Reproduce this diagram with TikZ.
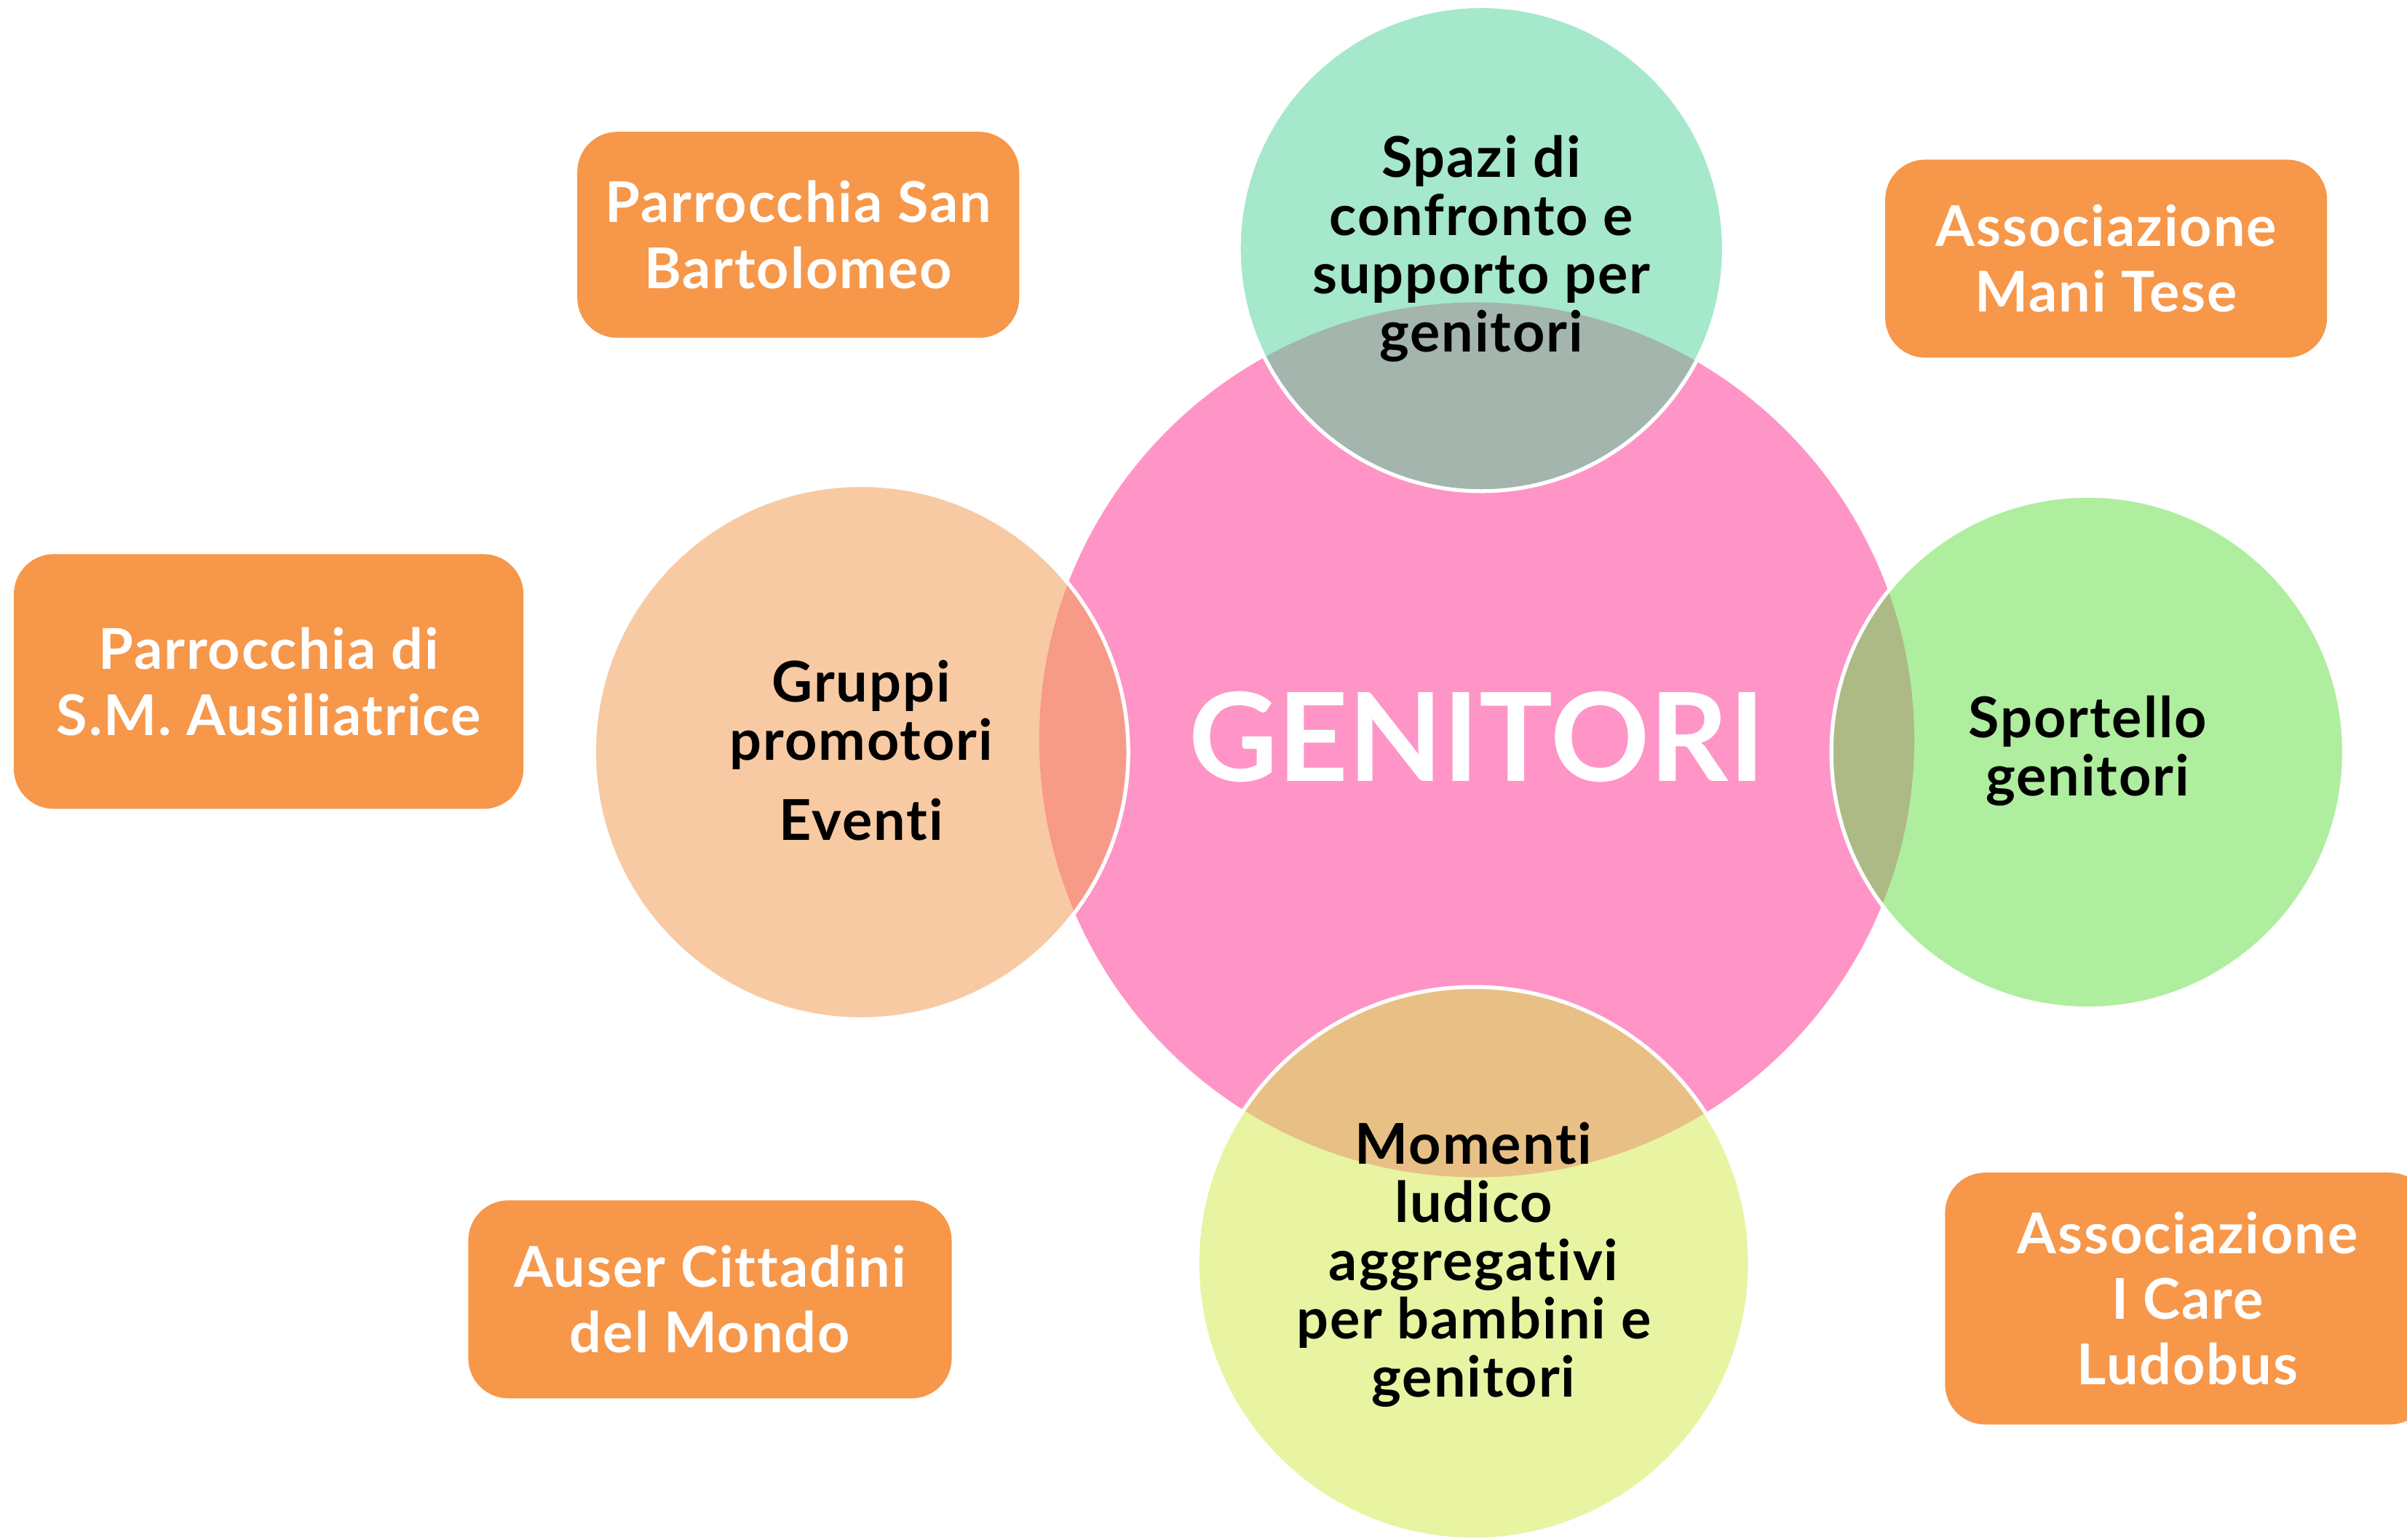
\documentclass[tikz,border=0pt]{standalone}
\usepackage{fontspec}
\setmainfont{Lato}[LetterSpace=2.5,Ligatures=NoCommon]
\definecolor{boxorange}{HTML}{F6974A}
\definecolor{genpink}{HTML}{FE95C6}
\definecolor{topgreen}{HTML}{A5E8CB}
\definecolor{topmix}{HTML}{A3B5AC}
\definecolor{rightgreen}{HTML}{AEEE9E}
\definecolor{rightmix}{HTML}{ADBA86}
\definecolor{leftpeach}{HTML}{F8CAA3}
\definecolor{leftmix}{HTML}{F79A88}
\definecolor{lowyellow}{HTML}{E8F4A2}
\definecolor{lowmix}{HTML}{E8C086}

\begin{document}
\begin{tikzpicture}[x=0.02109cm,y=-0.02109cm,
  org/.style={fill=boxorange,rounded corners=0.55cm,inner sep=0pt,text=white,align=center,
    font=\fontsize{22}{25.7}\selectfont\bfseries},
  area/.style={text=black,align=center,font=\fontsize{22}{22.8}\selectfont\bfseries},
  ring/.style={draw=white,line width=1.5pt}]
\useasboundingbox (0,0) rectangle (1568,1003);
\clip (0,0) rectangle (1568,1003);
%-------->big circle<--------------
\fill[genpink] (962,482) circle (285);
%-------->small circles<--------------
\fill[topgreen] (965,162) circle (158);
\fill[rightgreen] (1360,490) circle (167);
\fill[leftpeach] (561,490) circle (174);
\fill[lowyellow] (960,823) circle (180);
%-------->overlaps<--------------
\begin{scope}
\clip (962,482) circle (285);
\fill[topmix] (965,162) circle (158);
\fill[rightmix] (1360,490) circle (167);
\fill[leftmix] (561,490) circle (174);
\fill[lowmix] (960,823) circle (180);
\end{scope}
\draw[ring] (965,162) circle (158);
\draw[ring] (1360,490) circle (167);
\draw[ring] (561,490) circle (174);
\draw[ring] (960,823) circle (180);
%-------->circle texts<--------------
\node[text=white,font=\fontsize{48}{50}\selectfont\bfseries\addfontfeatures{LetterSpace=0}] (gen) at (962,480) {GENITORI};
\node[area] (spazi) at (965,162) {Spazi di\\confronto e\\supporto per\\genitori};
\node[area] (gruppi) at (561,489) {Gruppi\\promotori\\[0.3cm]Eventi};
\node[area] (sport) at (1360,489) {Sportello\\genitori};
\node[area] (momenti) at (960,824) {Momenti\\ludico\\aggregativi\\per bambini e\\genitori};
%-------->orange boxes<--------------
\node[org,minimum width=6.07cm,minimum height=2.83cm] (bart) at (520,153) {Parrocchia San\\Bartolomeo};
\node[org,minimum width=6.07cm,minimum height=2.72cm] (mani) at (1372,168.5) {Associazione\\Mani Tese};
\node[org,minimum width=7.00cm,minimum height=3.50cm] (ausil) at (175,444) {Parrocchia di\\S.M. Ausiliatrice};
\node[org,minimum width=6.64cm,minimum height=2.72cm] (auser) at (462.5,846.5) {Auser Cittadini\\del Mondo};
\node[org,minimum width=6.66cm,minimum height=3.46cm] (icare) at (1425,846) {Associazione\\I Care\\Ludobus};
\end{tikzpicture}
\end{document}
